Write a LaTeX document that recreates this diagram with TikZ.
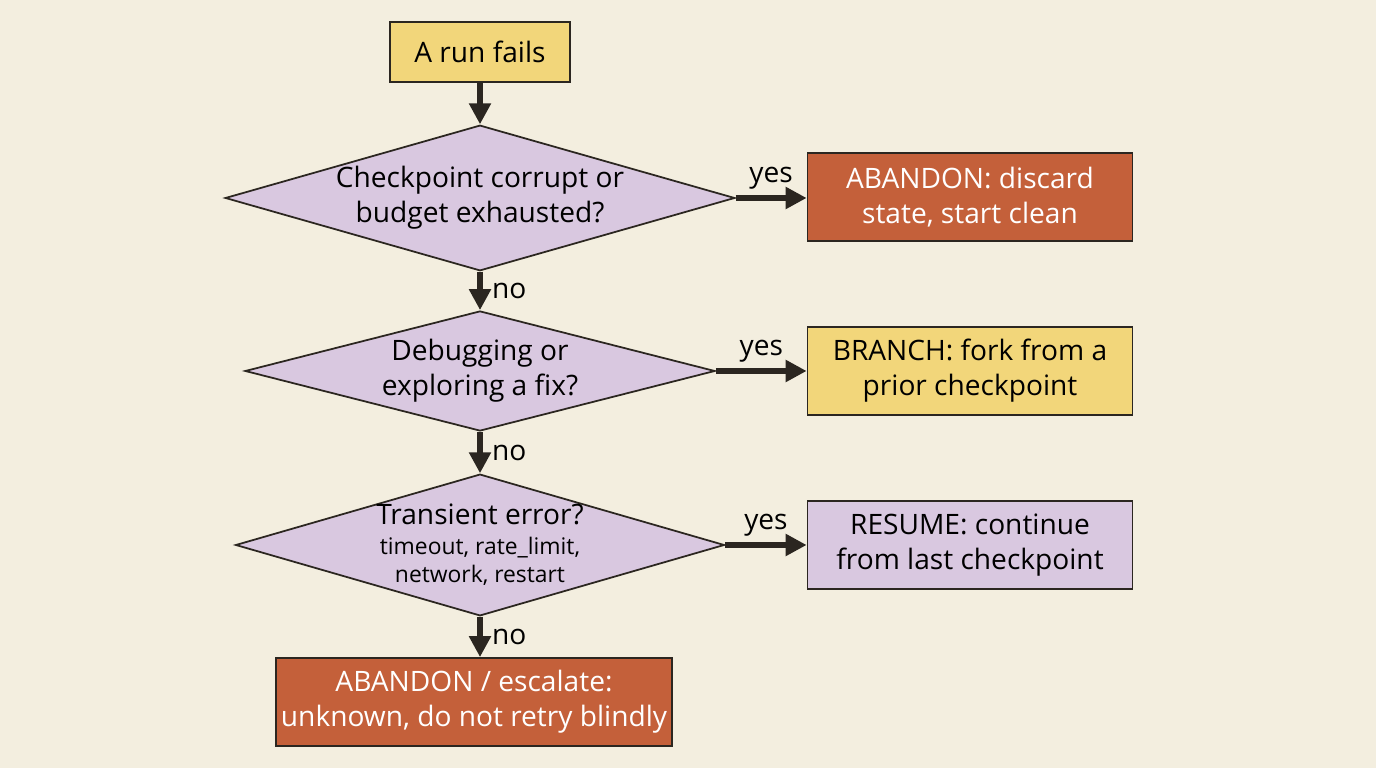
\documentclass[tikz,border=0pt]{standalone}
\usepackage{fontspec}
\setmainfont{Open Sans}
\usetikzlibrary{shapes.geometric,arrows.meta}
\definecolor{bgcol}{HTML}{F3EEDF}
\definecolor{yellowfill}{HTML}{F2D67A}
\definecolor{lilacfill}{HTML}{D9C8E0}
\definecolor{rustfill}{HTML}{C4603A}
\definecolor{inkcol}{HTML}{2B2620}
\begin{document}
\begin{tikzpicture}[line width=1pt, draw=inkcol,
  box node/.style={rectangle,draw=inkcol,align=center,font=\fontsize{16}{20}\selectfont,inner sep=0pt},
  choice node/.style={diamond,draw=inkcol,fill=lilacfill,align=center,inner sep=0pt,minimum width=9.4cm,font=\fontsize{16}{20}\selectfont},
  flow/.style={-{Triangle[length=0.42cm,width=0.42cm]},line width=3pt,draw=inkcol},
  tag/.style={font=\fontsize{16}{20}\selectfont,text=black}]
\fill[bgcol] (0,0) rectangle (27.52,15.36);
\useasboundingbox (0,0) rectangle (27.52,15.36);
\node [box node,fill=yellowfill,minimum width=3.6cm,minimum height=1.2cm](start) at (9.6,14.32) {A run fails};
\node [choice node,aspect=3.5,minimum height=2.68cm](d1) at (9.6,11.4) {Checkpoint corrupt or\\budget exhausted?};
\node [choice node,aspect=3.9,minimum height=2.4cm](d2) at (9.6,7.94) {Debugging or\\exploring a fix?};
\node [choice node,aspect=3.45,minimum height=2.72cm](d3) at (9.6,4.46) {Transient error?\\[-3pt]{\fontsize{13}{16}\selectfont timeout, rate\_limit,}\\[-4pt]{\fontsize{13}{16}\selectfont network, restart}};
\node [box node,fill=rustfill,text=white,minimum width=6.5cm,minimum height=1.76cm](r1) at (19.4,11.42) {ABANDON: discard\\state, start clean};
\node [box node,fill=yellowfill,minimum width=6.5cm,minimum height=1.76cm](r2) at (19.4,7.94) {BRANCH: fork from a\\prior checkpoint};
\node [box node,fill=lilacfill,minimum width=6.5cm,minimum height=1.76cm](r3) at (19.4,4.46) {RESUME: continue\\from last checkpoint};
\node [box node,fill=rustfill,text=white,minimum width=7.92cm,minimum height=1.76cm](end) at (9.48,1.32) {ABANDON / escalate:\\unknown, do not retry blindly};
\draw [flow] (start) -- (d1);
\draw [flow] (d1) -- node[tag,right,xshift=2pt]{no} (d2);
\draw [flow] (d2) -- node[tag,right,xshift=2pt]{no} (d3);
\draw [flow] (d3.south) -- node[tag,right,xshift=2pt]{no} (d3.south |- end.north);
\draw [flow] (d1.east) -- node[tag,above]{yes} (r1.west |- d1.east);
\draw [flow] (d2.east) -- node[tag,above]{yes} (r2.west |- d2.east);
\draw [flow] (d3.east) -- node[tag,above]{yes} (r3.west |- d3.east);
\end{tikzpicture}
\end{document}
